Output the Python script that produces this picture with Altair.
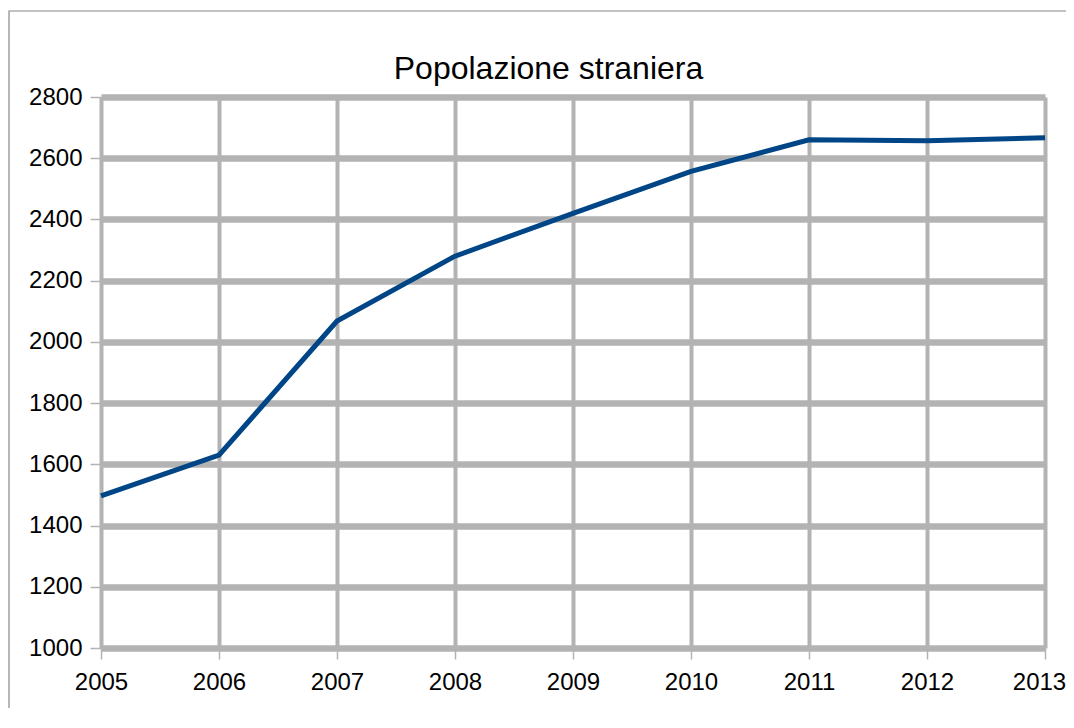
import altair as alt
import pandas as pd

years = [2005, 2006, 2007, 2008, 2009, 2010, 2011, 2012, 2013]
values = [1497, 1630, 2068, 2280, 2420, 2557, 2660, 2657, 2667]
y_ticks = [1000, 1200, 1400, 1600, 1800, 2000, 2200, 2400, 2600, 2800]
title_text = "Popolazione straniera"

df = pd.DataFrame({"anno": years, "stranieri": values})

FONT = "Liberation Sans"
GRID = "#b3b3b3"

line = alt.Chart(df).mark_line(color="#004586", strokeWidth=5, clip=False).encode(
    x=alt.X(
        "anno:Q",
        scale=alt.Scale(domain=[2005, 2013], nice=False, zero=False),
        axis=alt.Axis(
            values=years, format="d", title=None, grid=True, gridColor=GRID,
            gridWidth=4, gridOpacity=1, domain=False, tickColor=GRID, tickWidth=1.5,
            tickSize=11, labelFontSize=24, labelFont=FONT, labelColor="#000000",
            labelPadding=11, labelFlush=False, labelOverlap=False,
            labelOffset={"condition": {"test": "datum.value == 2013", "value": -6}, "value": 0},
        ),
    ),
    y=alt.Y(
        "stranieri:Q",
        scale=alt.Scale(domain=[1000, 2800], nice=False, zero=False),
        axis=alt.Axis(
            values=y_ticks, format="d", title=None, grid=True, gridColor=GRID,
            gridWidth=6.5, gridOpacity=1, domain=False, tickColor=GRID, tickWidth=1.5,
            tickSize=11, labelFontSize=24, labelFont=FONT, labelColor="#000000",
            labelPadding=8, labelOverlap=False,
        ),
    ),
)

frame = alt.Chart(pd.DataFrame({"k": [0]})).mark_rect(
    fill=None, stroke="#888888", strokeWidth=1.2, clip=False
).encode(
    x=alt.value(-92), x2=alt.value(2000), y=alt.value(-86), y2=alt.value(2000)
)

title = alt.Chart(pd.DataFrame({"t": [title_text]})).mark_text(
    font=FONT, fontSize=32, color="#000000", align="center", baseline="alphabetic", clip=False
).encode(text="t:N", x=alt.value(447.5), y=alt.value(-18))

chart = (
    alt.layer(frame, line, title)
    .properties(
        width=944, height=551,
        autosize=alt.AutoSizeParams(type="none"),
        padding={"left": 93, "top": 89, "right": 21, "bottom": 60},
    )
    .configure_view(stroke=None)
    .configure(background="#ffffff")
)

chart.save("out.html", embed_options={"renderer": "svg", "actions": False})
